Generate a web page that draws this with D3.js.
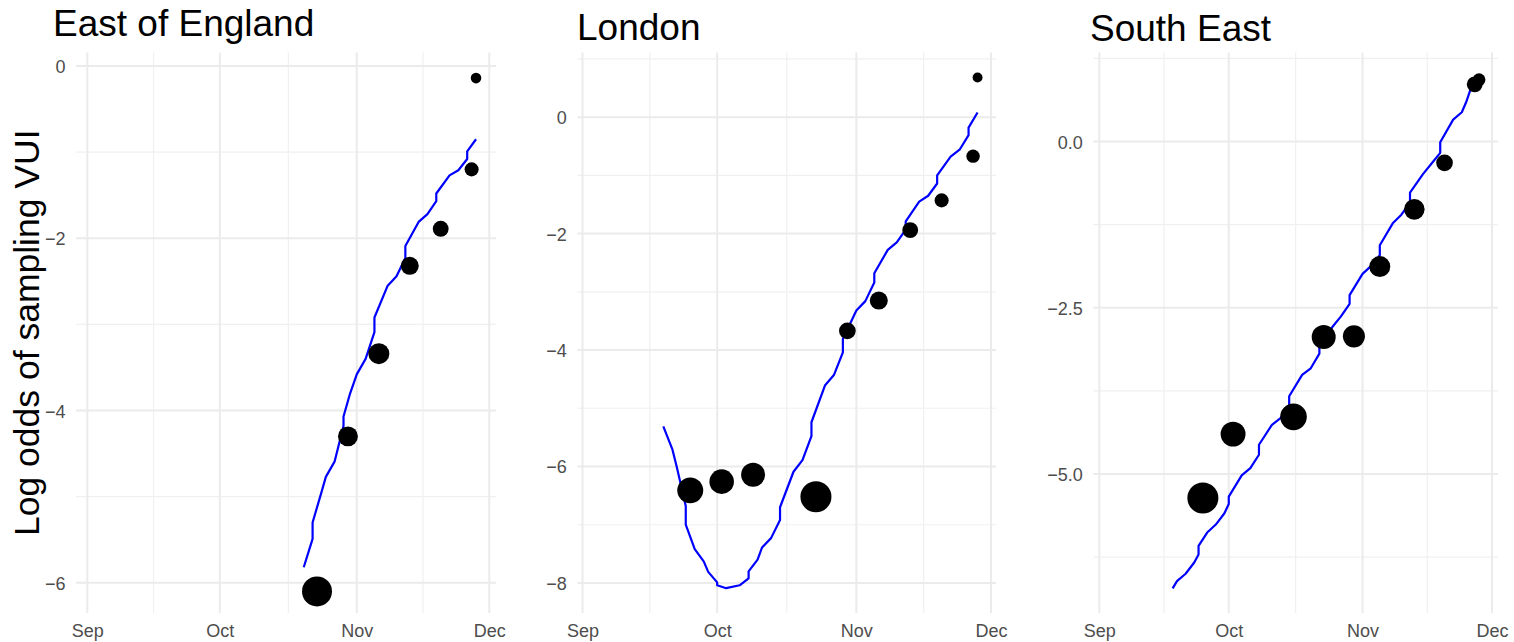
<!DOCTYPE html>
<html>
<head>
<meta charset="utf-8">
<script src="https://cdn.jsdelivr.net/npm/d3@7"></script>
<style>
  body { margin: 0; background: #fff; }
  svg { display: block; font-family: "Liberation Sans", Arial, Helvetica, sans-serif; }
</style>
</head>
<body>
<svg id="chart" width="1514" height="642"></svg>
<script>
// ---- data -------------------------------------------------------------
const regionNames = ["East of England", "London", "South East"];

// weekly observed log odds of sampling the VUI, with point weight
const eastObsDates  = ["2020-10-23","2020-10-30","2020-11-06","2020-11-13","2020-11-20","2020-11-27","2020-11-28"];
const eastObsLogOdds = [-6.10, -4.30, -3.34, -2.32, -1.89, -1.20, -0.14];
const eastObsWeight  = [100, 44, 49, 36, 28, 22, 12.5];

const londonObsDates  = ["2020-09-25","2020-10-02","2020-10-09","2020-10-23","2020-10-30","2020-11-06","2020-11-13","2020-11-20","2020-11-27","2020-11-28"];
const londonObsLogOdds = [-6.41, -6.26, -6.14, -6.52, -3.67, -3.15, -1.94, -1.43, -0.67, 0.68];
const londonObsWeight  = [75, 67, 64, 107, 31, 36, 28, 22, 20, 11];

const southEastObsDates  = ["2020-09-25","2020-10-02","2020-10-16","2020-10-23","2020-10-30","2020-11-05","2020-11-13","2020-11-20","2020-11-27","2020-11-28"];
const southEastObsLogOdds = [-5.36, -4.40, -4.14, -2.94, -2.93, -1.88, -1.02, -0.32, 0.86, 0.93];
const southEastObsWeight  = [107, 69, 79, 64, 54, 49, 47, 31, 28, 18];

// fitted log odds curve
const eastFitDates = ["2020-10-20","2020-10-22","2020-10-22","2020-10-24","2020-10-25","2020-10-27","2020-10-29","2020-10-29",
  "2020-10-30T12:00","2020-11-01","2020-11-03","2020-11-05","2020-11-05","2020-11-08","2020-11-10","2020-11-12","2020-11-12",
  "2020-11-15","2020-11-17","2020-11-19","2020-11-19","2020-11-22","2020-11-24","2020-11-26","2020-11-26","2020-11-28"];
const eastFitLogOdds = [-5.82,-5.49,-5.30,-4.95,-4.77,-4.59,-4.18,-4.07,
  -3.80,-3.58,-3.40,-3.09,-2.92,-2.55,-2.44,-2.23,-2.09,
  -1.81,-1.72,-1.57,-1.48,-1.27,-1.21,-1.08,-0.99,-0.85];

const londonFitDates = ["2020-09-19","2020-09-21","2020-09-22","2020-09-24","2020-09-24","2020-09-26","2020-09-28","2020-09-29",
  "2020-10-01","2020-10-01","2020-10-03","2020-10-06","2020-10-08","2020-10-08","2020-10-10","2020-10-11","2020-10-13",
  "2020-10-15","2020-10-15","2020-10-18","2020-10-20","2020-10-22","2020-10-22","2020-10-25","2020-10-27","2020-10-29",
  "2020-10-29","2020-11-01","2020-11-03","2020-11-05","2020-11-05","2020-11-08","2020-11-10","2020-11-12","2020-11-12",
  "2020-11-15","2020-11-17","2020-11-19","2020-11-19","2020-11-22","2020-11-24","2020-11-26","2020-11-26","2020-11-28"];
const londonFitLogOdds = [-5.31,-5.70,-6.01,-6.68,-7.00,-7.42,-7.63,-7.81,
  -7.99,-8.04,-8.09,-8.04,-7.92,-7.80,-7.60,-7.39,-7.23,
  -6.92,-6.70,-6.09,-5.89,-5.48,-5.24,-4.61,-4.43,-4.04,
  -3.81,-3.32,-3.16,-2.84,-2.68,-2.28,-2.15,-1.93,-1.79,
  -1.45,-1.35,-1.14,-1.00,-0.68,-0.56,-0.31,-0.18,0.08];

const southEastFitDates = ["2020-09-18","2020-09-19","2020-09-21","2020-09-23","2020-09-24","2020-09-24","2020-09-26","2020-09-28",
  "2020-09-30","2020-10-01","2020-10-01","2020-10-04","2020-10-06","2020-10-08","2020-10-08","2020-10-11","2020-10-13",
  "2020-10-15","2020-10-15","2020-10-18","2020-10-20","2020-10-22","2020-10-22","2020-10-25","2020-10-27","2020-10-29",
  "2020-10-29","2020-11-01","2020-11-03","2020-11-05","2020-11-05","2020-11-08","2020-11-10","2020-11-12","2020-11-12",
  "2020-11-15","2020-11-17","2020-11-19","2020-11-19","2020-11-22","2020-11-24","2020-11-25","2020-11-26","2020-11-28"];
const southEastFitLogOdds = [-6.72,-6.61,-6.50,-6.33,-6.21,-6.08,-5.88,-5.76,
  -5.59,-5.45,-5.34,-5.02,-4.91,-4.71,-4.56,-4.26,-4.16,
  -3.98,-3.83,-3.51,-3.41,-3.19,-3.09,-2.79,-2.63,-2.44,
  -2.31,-1.99,-1.87,-1.71,-1.56,-1.23,-1.10,-0.92,-0.77,
  -0.49,-0.33,-0.17,-0.01,0.33,0.44,0.59,0.78,0.99];

// axis breaks
const monthBreaks = ["2020-09-01","2020-10-01","2020-11-01","2020-12-01"];
const monthLabels = ["Sep","Oct","Nov","Dec"];
const eastYBreaks = [0, -2, -4, -6];
const londonYBreaks = [0, -2, -4, -6, -8];
const southEastYBreaks = [0, -2.5, -5];

const yAxisTitle = "Log odds of sampling VUI";

// ---- layout -----------------------------------------------------------
const W = 1514, H = 642;
const panelTop = 52.5, panelBottom = 613;
const parseDate = s => (s.length > 10 ? d3.utcParse("%Y-%m-%dT%H:%M")(s) : d3.utcParse("%Y-%m-%d")(s));
const DAY = 864e5;

const panels = [
  { name: regionNames[0], left: 76, right: 496, padL: 2.56, padR: 1.52, yDomain: [-6.351, 0.157],
    yBreaks: eastYBreaks, fmt: d3.format("d"), titleX: 53, titleY: 36,
    obs: { d: eastObsDates, v: eastObsLogOdds, w: eastObsWeight },
    fit: { d: eastFitDates, v: eastFitLogOdds } },
  { name: regionNames[1], left: 577.3, right: 996, padL: 1.16, padR: 1.11, yDomain: [-8.516, 1.110],
    yBreaks: londonYBreaks, fmt: d3.format("d"), titleX: 577, titleY: 40,
    obs: { d: londonObsDates, v: londonObsLogOdds, w: londonObsWeight },
    fit: { d: londonFitDates, v: londonFitLogOdds } },
  { name: regionNames[2], left: 1093.3, right: 1498, padL: 1.39, padR: 1.39, yDomain: [-7.09, 1.339],
    yBreaks: southEastYBreaks, fmt: d3.format(".1f"), titleX: 1090, titleY: 41,
    obs: { d: southEastObsDates, v: southEastObsLogOdds, w: southEastObsWeight },
    fit: { d: southEastFitDates, v: southEastFitLogOdds } }
];

const svg = d3.select("#chart");
svg.append("rect").attr("width", W).attr("height", H).attr("fill", "#fff");

// point size shared across panels
const rScale = d3.scaleSqrt().domain([0, 100]).range([0, 15]);

const months = monthBreaks.map(s => parseDate(s));
const monthMinor = d3.pairs(months).map(([a, b]) => new Date((+a + +b) / 2));

panels.forEach(p => {
  const x = d3.scaleUtc()
    .domain([new Date(+months[0] - p.padL * DAY), new Date(+months[3] + p.padR * DAY)])
    .range([p.left, p.right]);
  const y = d3.scaleLinear().domain(p.yDomain).range([panelBottom, panelTop]);

  const g = svg.append("g");

  // y minor breaks: midpoints between major breaks
  const step = p.yBreaks[0] - p.yBreaks[1];
  const yMinor = [];
  for (let v = p.yBreaks[0] + step / 2; v >= p.yDomain[0]; v -= step) {
    if (v <= p.yDomain[1]) yMinor.push(v);
  }

  const grid = g.append("g");
  grid.selectAll(".xminor").data(monthMinor).join("line")
    .attr("x1", d => x(d)).attr("x2", d => x(d))
    .attr("y1", panelTop).attr("y2", panelBottom)
    .attr("stroke", "#f0f0f0").attr("stroke-width", 1.2);
  grid.selectAll(".yminor").data(yMinor).join("line")
    .attr("x1", p.left).attr("x2", p.right)
    .attr("y1", d => y(d)).attr("y2", d => y(d))
    .attr("stroke", "#f0f0f0").attr("stroke-width", 1.2);
  grid.selectAll(".xmajor").data(months).join("line")
    .attr("x1", d => x(d)).attr("x2", d => x(d))
    .attr("y1", panelTop).attr("y2", panelBottom)
    .attr("stroke", "#ebebeb").attr("stroke-width", 2);
  grid.selectAll(".ymajor").data(p.yBreaks).join("line")
    .attr("x1", p.left).attr("x2", p.right)
    .attr("y1", d => y(d)).attr("y2", d => y(d))
    .attr("stroke", "#ebebeb").attr("stroke-width", 2);

  // axes (labels only, no axis lines)
  const xAxis = d3.axisBottom(x).tickValues(months)
    .tickFormat((d, i) => monthLabels[i]).tickSize(0).tickPadding(0);
  const xa = g.append("g").attr("transform", `translate(0,${panelBottom})`).call(xAxis);
  xa.select(".domain").remove();
  xa.selectAll("text").attr("y", 23.5).attr("dy", 0)
    .attr("fill", "#4d4d4d").style("font-size", "18px")
    .style("font-family", '"Liberation Sans", Arial, sans-serif');

  const yAxis = d3.axisLeft(y).tickValues(p.yBreaks).tickFormat(p.fmt).tickSize(0).tickPadding(0);
  const ya = g.append("g").attr("transform", `translate(${p.left - 10.5},0)`).call(yAxis);
  ya.select(".domain").remove();
  ya.selectAll("text").attr("x", 0).attr("dy", "0.36em")
    .attr("fill", "#4d4d4d").style("font-size", "18px")
    .style("font-family", '"Liberation Sans", Arial, sans-serif');

  // fitted curve
  const fitPts = p.fit.d.map((d, i) => ({ t: parseDate(d), v: p.fit.v[i] }));
  g.append("path").datum(fitPts)
    .attr("fill", "none").attr("stroke", "#0000ff").attr("stroke-width", 2.2)
    .attr("stroke-linejoin", "round")
    .attr("d", d3.line().x(d => x(d.t)).y(d => y(d.v)));

  // observed points
  const obsPts = p.obs.d.map((d, i) => ({ t: parseDate(d), v: p.obs.v[i], w: p.obs.w[i] }));
  g.selectAll("circle").data(obsPts).join("circle")
    .attr("cx", d => x(d.t)).attr("cy", d => y(d.v)).attr("r", d => rScale(d.w))
    .attr("fill", "#000");

  // title
  svg.append("text").attr("x", p.titleX).attr("y", p.titleY)
    .attr("fill", "#000").style("font-size", "37px").text(p.name);
});

// shared y-axis title
svg.append("text")
  .attr("transform", `translate(38.5,${(panelTop + panelBottom) / 2}) rotate(-90)`)
  .attr("text-anchor", "middle").attr("fill", "#000")
  .style("font-size", "35.5px").text(yAxisTitle);
</script>
</body>
</html>
